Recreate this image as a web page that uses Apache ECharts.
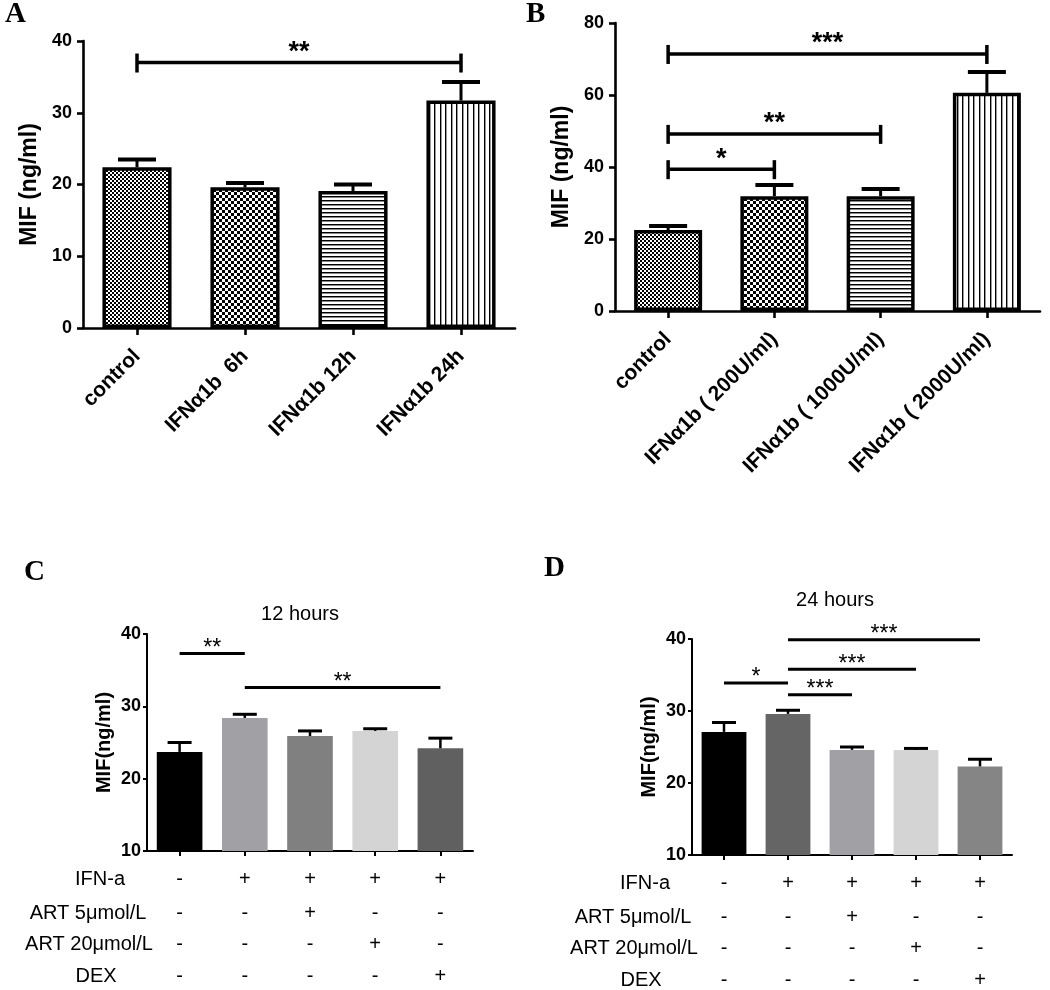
<!DOCTYPE html>
<html><head><meta charset="utf-8">
<script src="https://cdn.jsdelivr.net/npm/echarts@6/dist/echarts.min.js"></script>
<style>html,body{margin:0;padding:0;background:#fff}#c{width:1050px;height:990px}</style>
</head><body><div id="c"></div>
<script>
// ---------- DATA ----------
const aCategories = ['control', 'IFNα1b  6h', 'IFNα1b 12h', 'IFNα1b 24h'];
const aValues = [22.4, 19.6, 19.1, 31.7];
const aSem = [1.1, 0.6, 0.9, 2.6];
const aTicks = [0, 10, 20, 30, 40];
const aSig = [[0, 3, 37.0]];
const aSigText = ['**'];

const bCategories = ['control', 'IFNα1b ( 200U/ml)', 'IFNα1b ( 1000U/ml)', 'IFNα1b ( 2000U/ml)'];
const bValues = [22.5, 31.9, 31.9, 60.6];
const bSem = [1.1, 3.1, 2.0, 5.8];
const bTicks = [0, 20, 40, 60, 80];
const bSig = [[0, 1, 39.4], [0, 2, 49.2], [0, 3, 71.4]];
const bSigText = ['*', '**', '***'];

const cdGroups = ['g1', 'g2', 'g3', 'g4', 'g5'];
const cdTicks = [10, 20, 30, 40];
const tableRowNames = ['IFN-a', 'ART 5μmol/L', 'ART 20μmol/L', 'DEX'];
const tableSigns = [
  ['-', '+', '+', '+', '+'],
  ['-', '-', '+', '-', '-'],
  ['-', '-', '-', '+', '-'],
  ['-', '-', '-', '-', '+']
];

const cTitle = '12 hours';
const cValues = [23.7, 28.4, 25.9, 26.6, 24.2];
const cSem = [1.3, 0.5, 0.7, 0.3, 1.4];
const cSig = [[0, 1, 37.3], [1, 4, 32.6]];
const cSigText = ['**', '**'];

const dTitle = '24 hours';
const dValues = [27.1, 29.6, 24.6, 24.6, 22.3];
const dSem = [1.3, 0.5, 0.4, 0.2, 1.0];
const dSig = [[0, 1, 33.9], [1, 2, 32.25], [1, 3, 35.8], [1, 4, 39.9]];
const dSigText = ['*', '***', '***', '***'];

const yNameAB = 'MIF (ng/ml)';
const yNameCD = 'MIF(ng/ml)';
const panelLetters = ['A', 'B', 'C', 'D'];

// ---------- STYLE ----------
const SANS = "'Liberation Sans', Arial, sans-serif";
const SERIF = "'Liberation Serif', 'Times New Roman', serif";
const cColors = ['#000000', '#a1a1a5', '#808080', '#d4d4d4', '#606060'];
const dColors = ['#000000', '#656565', '#a1a1a5', '#d4d4d4', '#858585'];

function makePattern(kind) {
  const c = document.createElement('canvas');
  const g = c.getContext('2d');
  if (kind === 'fine') {
    c.width = 4; c.height = 4;
    g.fillStyle = '#fff'; g.fillRect(0, 0, 4, 4);
    g.fillStyle = '#000'; g.fillRect(0, 0, 2, 2); g.fillRect(2, 2, 2, 2);
  } else if (kind === 'coarse') {
    c.width = 6; c.height = 6;
    g.fillStyle = '#fff'; g.fillRect(0, 0, 6, 6);
    g.fillStyle = '#000'; g.fillRect(0, 0, 3, 3); g.fillRect(3, 3, 3, 3);
  } else if (kind === 'hlines') {
    c.width = 4; c.height = 4;
    g.fillStyle = '#fff'; g.fillRect(0, 0, 4, 4);
    g.fillStyle = '#000'; g.fillRect(0, 0, 4, 1);
    g.fillStyle = '#888'; g.fillRect(0, 1, 4, 1);
  } else {
    c.width = 11; c.height = 4;
    g.fillStyle = '#fff'; g.fillRect(0, 0, 11, 4);
    g.fillStyle = '#000'; g.fillRect(0, 0, 1, 4); g.fillRect(5, 0, 1, 4);
    g.fillStyle = '#999'; g.fillRect(1, 0, 1, 4); g.fillRect(6, 0, 1, 4);
  }
  return { image: c, repeat: 'repeat' };
}
const patterns = [makePattern('fine'), makePattern('coarse'), makePattern('hlines'), makePattern('vlines')];

const grids = [
  { left: 83, top: 41, width: 432, height: 287 },
  { left: 615, top: 23, width: 425, height: 288 },
  { left: 147, top: 634, width: 326, height: 217 },
  { left: 692, top: 639, width: 320, height: 216 }
];

function yAxisFor(gi, ticks, name, big) {
  return {
    type: 'value', gridIndex: gi,
    min: ticks[0], max: ticks[ticks.length - 1], interval: ticks[1] - ticks[0],
    splitLine: { show: false },
    axisLine: { show: true, lineStyle: { color: '#000', width: big ? 2.6 : 2 } },
    axisTick: { show: true, length: big ? 6 : 4, lineStyle: { color: '#000', width: big ? 2.6 : 2 } },
    axisLabel: { color: '#000', fontFamily: SANS, fontWeight: 'bold', fontSize: 18, margin: big ? 11 : 6 },
    name: name, nameLocation: 'middle', nameRotate: 90, nameGap: big ? 42 : 33,
    nameTextStyle: { color: '#000', fontFamily: SANS, fontWeight: 'bold', fontSize: big ? 23 : 20 }
  };
}

function xAxisAB(gi, cats) {
  return {
    type: 'category', gridIndex: gi, data: cats,
    axisLine: { show: true, lineStyle: { color: '#000', width: 2.6 } },
    axisTick: { show: true, alignWithLabel: true, length: 7, lineStyle: { color: '#000', width: 2.6 } },
    axisLabel: { rotate: 45, interval: 0, color: '#000', fontFamily: SANS, fontWeight: 'bold', fontSize: 21, margin: 25 }
  };
}

function xAxesCD(gi) {
  const gridBottomOffsets = [28, 62, 93, 125];
  const nameGaps = [47, 59, 58, 51];
  const list = [{
    type: 'category', gridIndex: gi, data: cdGroups,
    axisLine: { show: true, lineStyle: { color: '#000', width: 2 } },
    axisTick: { show: true, alignWithLabel: true, length: 5, lineStyle: { color: '#000', width: 2 } },
    axisLabel: { show: false }
  }];
  tableRowNames.forEach((rn, r) => {
    list.push({
      type: 'category', gridIndex: gi, data: cdGroups, position: 'bottom',
      offset: gridBottomOffsets[r],
      axisLine: { show: false }, axisTick: { show: false },
      axisLabel: {
        interval: 0, margin: 0, verticalAlign: 'middle', color: '#000',
        fontFamily: SANS, fontSize: 20,
        formatter: (v, i) => tableSigns[r][i]
      },
      name: rn, nameLocation: 'start', nameGap: nameGaps[r],
      nameTextStyle: { color: '#000', fontFamily: SANS, fontSize: 20, align: 'center', verticalAlign: 'middle' }
    });
  });
  return list;
}

function errSeries(xi, yi, vals, sem, capW, lw, capLw) {
  return {
    type: 'custom', xAxisIndex: xi, yAxisIndex: yi, silent: true, z: 5,
    data: vals.map((v, i) => [i, v, v + sem[i]]),
    encode: { x: 0, y: [1, 2] },
    renderItem(p, api) {
      const b = api.coord([api.value(0), api.value(1)]);
      const t = api.coord([api.value(0), api.value(2)]);
      return {
        type: 'group', children: [
          { type: 'line', shape: { x1: b[0], y1: b[1], x2: t[0], y2: t[1] }, style: { stroke: '#000', lineWidth: lw } },
          { type: 'line', shape: { x1: t[0] - capW / 2, y1: t[1], x2: t[0] + capW / 2, y2: t[1] }, style: { stroke: '#000', lineWidth: capLw } }
        ]
      };
    }
  };
}

function sigSeries(xi, yi, sig, texts, o) {
  return {
    type: 'custom', xAxisIndex: xi, yAxisIndex: yi, silent: true, z: 6,
    data: sig.map(s => [s[0], s[1], s[2]]),
    encode: { x: [0, 1], y: 2 },
    renderItem(p, api) {
      const a = api.coord([api.value(0), api.value(2)]);
      const b = api.coord([api.value(1), api.value(2)]);
      const ch = [{ type: 'line', shape: { x1: a[0], y1: a[1], x2: b[0], y2: b[1] }, style: { stroke: '#000', lineWidth: o.lw } }];
      if (o.tick) {
        ch.push({ type: 'line', shape: { x1: a[0], y1: a[1] - 9, x2: a[0], y2: a[1] + 10 }, style: { stroke: '#000', lineWidth: o.lw } });
        ch.push({ type: 'line', shape: { x1: b[0], y1: b[1] - 9, x2: b[0], y2: b[1] + 10 }, style: { stroke: '#000', lineWidth: o.lw } });
      }
      ch.push({
        type: 'text',
        style: {
          text: texts[p.dataIndex], x: (a[0] + b[0]) / 2, y: a[1] - o.gap,
          align: 'center', verticalAlign: 'middle', fill: '#000',
          fontFamily: SANS, fontSize: o.fs, fontWeight: o.fw
        }
      });
      return { type: 'group', children: ch };
    }
  };
}

const xAxes = [xAxisAB(0, aCategories), xAxisAB(1, bCategories)]
  .concat(xAxesCD(2)).concat(xAxesCD(3));
const yAxes = [
  yAxisFor(0, aTicks, yNameAB, true),
  yAxisFor(1, bTicks, yNameAB, true),
  yAxisFor(2, cdTicks, yNameCD, false),
  yAxisFor(3, cdTicks, yNameCD, false)
];

function patternBar(xi, yi, vals) {
  return {
    type: 'bar', xAxisIndex: xi, yAxisIndex: yi, barWidth: '64%', z: 3,
    data: vals.map((v, i) => ({ value: v, itemStyle: { color: patterns[i] } })),
    itemStyle: { borderColor: '#000', borderWidth: 3.5 },
    silent: true
  };
}
function colorBar(xi, yi, vals, colors) {
  return {
    type: 'bar', xAxisIndex: xi, yAxisIndex: yi, barWidth: '70%', z: 3,
    data: vals.map((v, i) => ({ value: v, itemStyle: { color: colors[i] } })),
    silent: true
  };
}

const series = [
  patternBar(0, 0, aValues),
  errSeries(0, 0, aValues, aSem, 38, 3, 4),
  sigSeries(0, 0, aSig, aSigText, { lw: 3.5, tick: true, gap: 10, fs: 27, fw: 'bold' }),
  patternBar(1, 1, bValues),
  errSeries(1, 1, bValues, bSem, 38, 3, 4),
  sigSeries(1, 1, bSig, bSigText, { lw: 3.5, tick: true, gap: 10, fs: 27, fw: 'bold' }),
  colorBar(2, 2, cValues, cColors),
  errSeries(2, 2, cValues, cSem, 24, 2.5, 3),
  sigSeries(2, 2, cSig, cSigText, { lw: 3, tick: false, gap: 5, fs: 23, fw: 'normal' }),
  colorBar(7, 3, dValues, dColors),
  errSeries(7, 3, dValues, dSem, 24, 2.5, 3),
  sigSeries(7, 3, dSig, dSigText, { lw: 3, tick: false, gap: 5, fs: 23, fw: 'normal' })
];

const letterPos = [[0, -5], [521, -5], [19, 553], [539, 549]];
const titles = panelLetters.map((t, i) => ({
  text: t, left: letterPos[i][0], top: letterPos[i][1],
  textStyle: { fontFamily: SERIF, fontWeight: 'bold', fontSize: 29, color: '#000' }
}));
titles.push({ text: cTitle, left: 295, top: 599, textAlign: 'center', textStyle: { fontFamily: SANS, fontWeight: 'normal', fontSize: 20, color: '#000' } });
titles.push({ text: dTitle, left: 830, top: 585, textAlign: 'center', textStyle: { fontFamily: SANS, fontWeight: 'normal', fontSize: 20, color: '#000' } });

const chart = echarts.init(document.getElementById('c'), null, { renderer: 'canvas' });
chart.setOption({
  animation: false,
  backgroundColor: '#fff',
  title: titles,
  grid: grids,
  xAxis: xAxes,
  yAxis: yAxes,
  series: series
});
</script>
</body></html>
